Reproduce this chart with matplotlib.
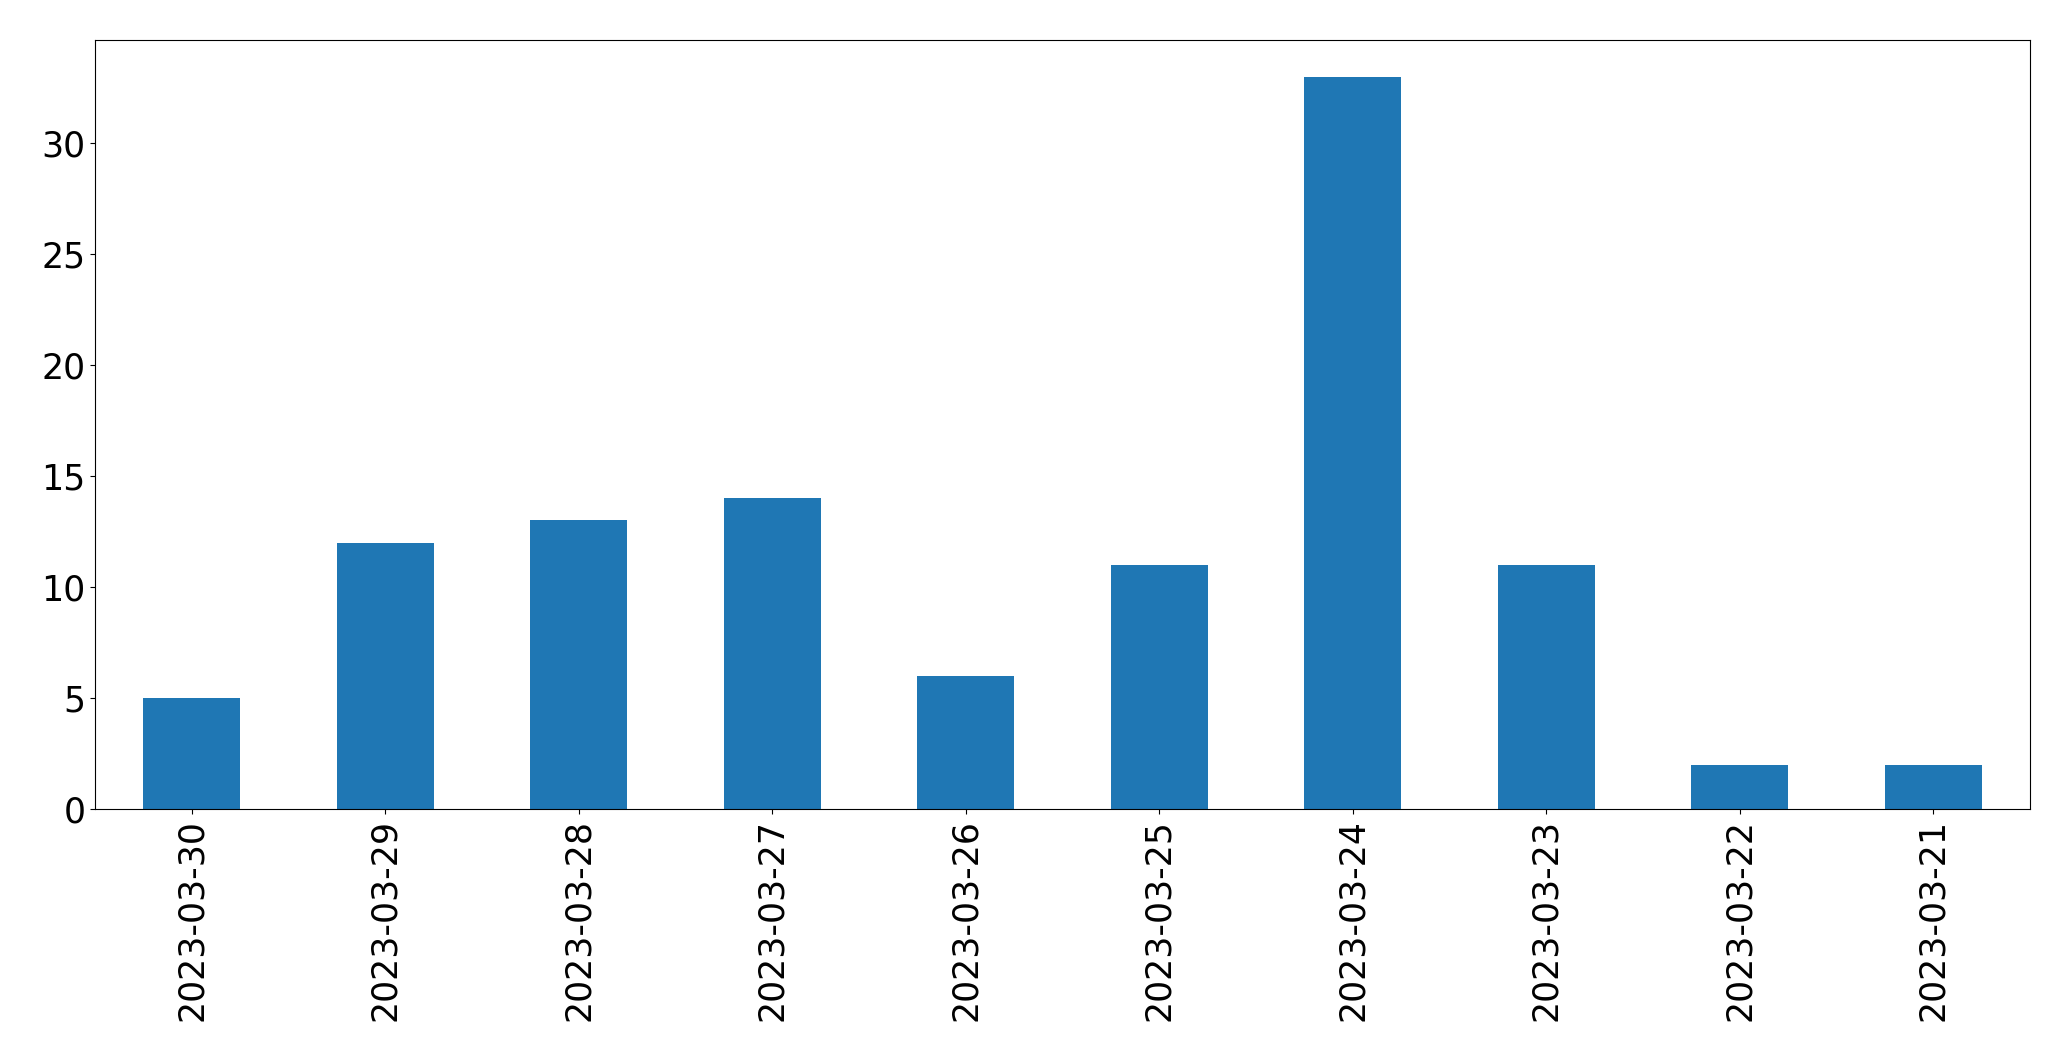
import matplotlib
matplotlib.use("Agg")
import matplotlib.pyplot as plt
import pandas as pd

dates = ["2023-03-30", "2023-03-29", "2023-03-28", "2023-03-27", "2023-03-26",
         "2023-03-25", "2023-03-24", "2023-03-23", "2023-03-22", "2023-03-21"]
counts = [5, 12, 13, 14, 6, 11, 33, 11, 2, 2]

W, H = 2071, 1061
fig = plt.figure(figsize=(W / 100, H / 100), dpi=100)
ax = fig.add_axes([95 / W, 1 - 809 / H, (2030 - 95) / W, (809 - 40) / H])

s = pd.Series(counts, index=dates)
s.plot.bar(ax=ax, color="#1f77b4", width=0.5)
ax.tick_params(axis="both", labelsize=25)

fig.savefig("out.png", dpi=100)
